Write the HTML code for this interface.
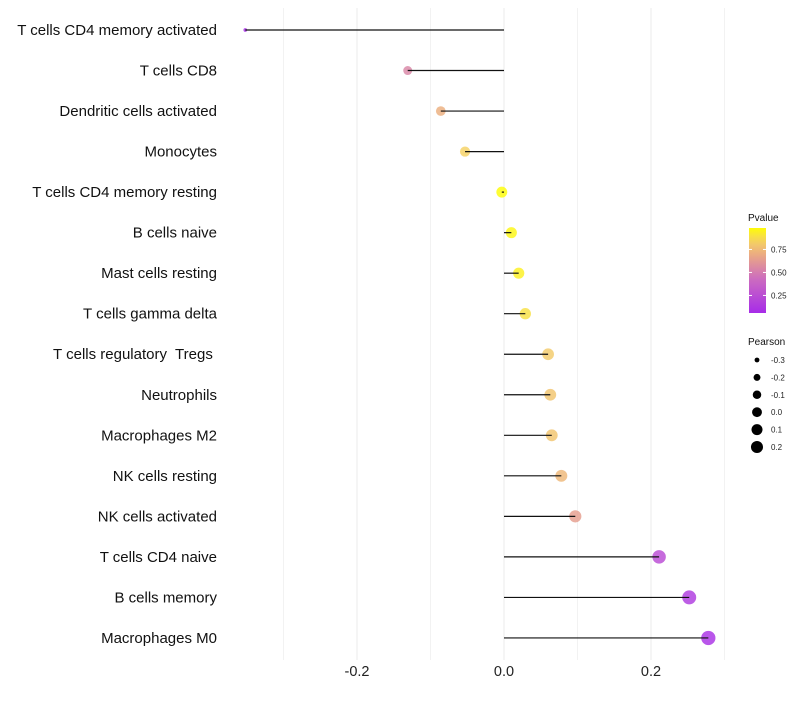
<!DOCTYPE html>
<html><head><meta charset="utf-8"><style>
body{margin:0;background:#fff;font-family:"Liberation Sans",sans-serif}
text{white-space:pre}
</style></head><body>
<svg id="c" width="800" height="700"></svg>
<script>
const categories=["T cells CD4 memory activated","T cells CD8","Dendritic cells activated","Monocytes","T cells CD4 memory resting","B cells naive","Mast cells resting","T cells gamma delta","T cells regulatory  Tregs ","Neutrophils","Macrophages M2","NK cells resting","NK cells activated","T cells CD4 naive","B cells memory","Macrophages M0"];
const pearson=[-0.352,-0.131,-0.086,-0.053,-0.003,0.010,0.020,0.029,0.060,0.063,0.065,0.078,0.097,0.211,0.252,0.278];
const pvalues=[0.07,0.55,0.72,0.85,0.99,0.97,0.95,0.9,0.82,0.8,0.8,0.75,0.65,0.25,0.15,0.1];
const xTicks=[-0.2,0,0.2];
const xTickLabels=["-0.2","0.0","0.2"];
const xMinor=[-0.3,-0.1,0.1,0.3];
const pLegendVals=[0.75,0.5,0.25];
const sizeLegendVals=[-0.3,-0.2,-0.1,0.0,0.1,0.2];
const NS="http://www.w3.org/2000/svg";
const svg=document.getElementById('c');
function X(v){return 504+v*735;}
function Y(i){return 30+i*40.53;}
function R(v){return Math.sqrt(Math.max(1,29.9+75.4*v));}
const stops=[[0,[160,32,240]],[0.45,[205,110,190]],[0.7,[235,170,130]],[0.85,[245,210,100]],[1,[255,255,0]]];
function col(p){for(let i=1;i<stops.length;i++){if(p<=stops[i][0]){const a=stops[i-1],b=stops[i],t=(p-a[0])/(b[0]-a[0]);return 'rgb('+a[1].map((c,k)=>Math.round(c+(b[1][k]-c)*t)).join(',')+')';}}return 'rgb(255,255,0)';}
function el(t,a,p){const e=document.createElementNS(NS,t);for(const k in a)e.setAttribute(k,a[k]);(p||svg).appendChild(e);return e;}
xMinor.forEach(v=>{const l=el('line',{x1:X(v),x2:X(v),y1:8,y2:660,stroke:'#f2f2f2','stroke-width':1});

});
xTicks.forEach((v,i)=>{const l=el('line',{x1:X(v),x2:X(v),y1:8,y2:660,stroke:'#ebebeb','stroke-width':1});


const t=el('text',{x:X(v),y:676,'text-anchor':'middle','font-size':14.5,fill:'#222'});t.textContent=xTickLabels[i];

});
categories.forEach((c,i)=>{const y=Y(i);
const t=el('text',{x:217,y:y+5,'text-anchor':'end','font-size':15,fill:'#111'});t.textContent=c;


const d=el('circle',{cx:X(pearson[i]),cy:y,r:R(pearson[i]),fill:col(pvalues[i]),'fill-opacity':0.82});


const l=el('line',{x1:X(0),x2:X(pearson[i]),y1:y,y2:y,stroke:'#111','stroke-width':1.2});

});
// legends
const g=el('g',{});


const lt=el('text',{x:748,y:221,'font-size':10,fill:'#111'},g);lt.textContent='Pvalue';
const defs=el('defs',{});const lg=el('linearGradient',{id:'pg',x1:0,y1:1,x2:0,y2:0},defs);
for(let k=0;k<=10;k++){el('stop',{offset:k/10,'stop-color':col(0.07+k*0.092)},lg);}
el('rect',{x:749,y:228,width:17,height:85,fill:'url(#pg)'},g);
pLegendVals.forEach(v=>{const y=312-(v-0.07)*92;el('line',{x1:749,x2:752,y1:y,y2:y,stroke:'#fff'},g);el('line',{x1:763,x2:766,y1:y,y2:y,stroke:'#fff'},g);
const t=el('text',{x:771,y:y+3,'font-size':8,fill:'#222'},g);t.textContent=v.toFixed(2);});
const g2=el('g',{});


const st=el('text',{x:748,y:345,'font-size':10,fill:'#111'},g2);st.textContent='Pearson';
sizeLegendVals.forEach((v,i)=>{const y=360+i*17.4;el('circle',{cx:757,cy:y,r:R(v)*0.9,fill:'#000'},g2);
const t=el('text',{x:771,y:y+3,'font-size':8,fill:'#222'},g2);t.textContent=v.toFixed(1);});
</script>
</body></html>
